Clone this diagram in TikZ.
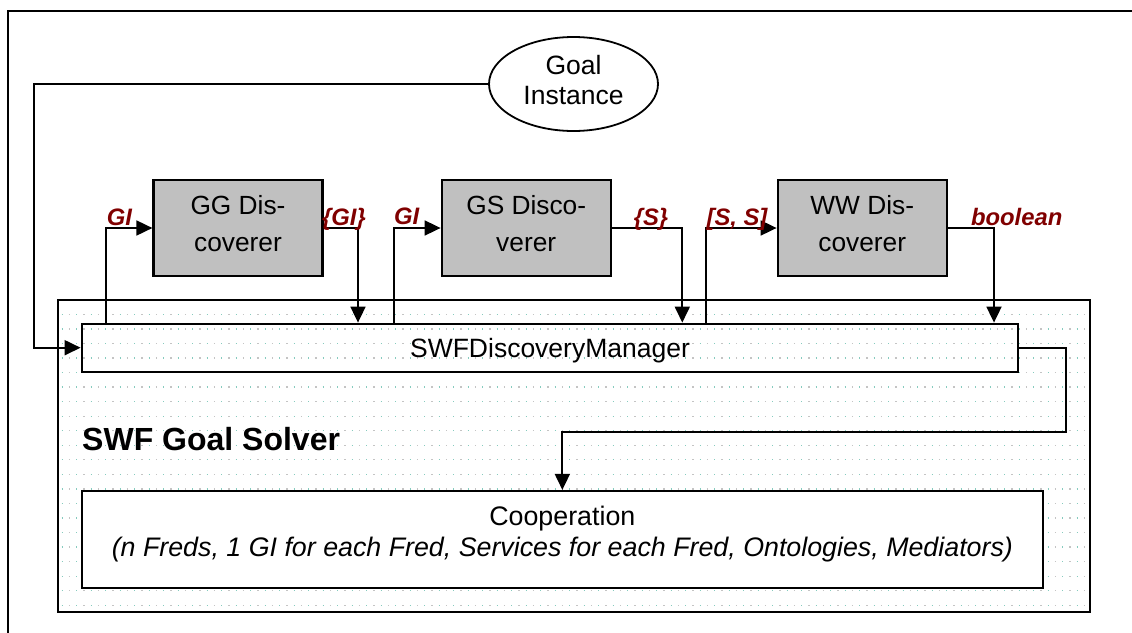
\documentclass[tikz,border=0pt]{standalone}
\usepackage{fontspec}
\setmainfont{Liberation Sans}
\usetikzlibrary{arrows.meta,shapes.geometric,calc}
\definecolor{lbl}{HTML}{800000}
\definecolor{boxgray}{HTML}{C0C0C0}
\definecolor{dotteal}{HTML}{86CBBE}
\definecolor{dotgray}{HTML}{C4C4C4}
\begin{document}
\begin{tikzpicture}[x=1pt,y=-1pt,
  box/.style={draw,line width=2.2pt,inner sep=0pt},
  disc/.style={box,fill=boxgray,minimum width=169pt,minimum height=96pt,
    align=center,font=\fontsize{26.3}{37}\selectfont,text depth=9.8pt},
  lab/.style={text=lbl,font=\fontsize{23.8}{24}\selectfont\bfseries\itshape,
    inner sep=0pt,anchor=base},
  conn/.style={line width=1.8pt},
  arr/.style={conn,-{Triangle[length=16pt,width=15pt]}},
  dotrow/.style={line width=1.3pt,dash pattern=on 1.3pt off 13.2pt},
]
\useasboundingbox (0,0) rectangle (1132,632);
\clip (0,0) rectangle (1132,632);

% sheet frame, running past the page edge
\draw[conn] (8.3,650) |- (1150,10.7);

% dotted grid inside the solver
\foreach \k in {0,...,20}{
  \pgfmathsetmacro\yy{314.3+14.55*\k}
  \draw[dotrow,dotteal] (61.6,\yy) -- (1088,\yy);
  \draw[dotrow,dotgray] (68.85,\yy) -- (1088,\yy);
}

% SWF Goal Solver container
\node[box,minimum width=1032.3pt,minimum height=312pt] (solver) at (573.85,455.7) {};
\node[anchor=base west,inner sep=0pt,font=\fontsize{32}{32}\selectfont\bfseries]
  (solverlabel) at (82,450) {SWF Goal Solver};

% discovery manager and cooperation
\node[box,minimum width=936.6pt,minimum height=48pt,text depth=0pt,
  font=\fontsize{26.5}{30}\selectfont] (mgr) at (550,347.7) {SWFDiscoveryManager};
\node[box,fill=white,minimum width=960.7pt,minimum height=97pt,align=center,
  font=\fontsize{26.8}{31}\selectfont,text depth=16.2pt] (coop) at (562.35,539.5)
  {Cooperation\\\textit{(n Freds, 1 GI for each Fred, Services for each Fred, Ontologies, Mediators)}};

% discoverers
\node[disc] (gg) at (238,228) {GG Dis-\\coverer};
\node[disc] (gs) at (526.2,228) {GS Disco-\\verer};
\node[disc] (ww) at (862.2,228) {WW Dis-\\coverer};

% goal instance
\node[draw,ellipse,line width=1.8pt,inner sep=0pt,minimum width=169pt,
  minimum height=94pt,align=center,font=\fontsize{26.5}{30}\selectfont,text depth=7.5pt]
  (goal) at (573.5,84) {Goal\\Instance};

% connector columns
\coordinate (xa) at (106,0);
\coordinate (xb) at (358,0);
\coordinate (xc) at (394,0);
\coordinate (xd) at (682.3,0);
\coordinate (xe) at (706,0);
\coordinate (xf) at (994,0);
\coordinate (gbend) at (34,0);
\coordinate (rbend) at (1066,431.7);

% connectors
\draw[arr] (goal.west) -- (gbend |- goal.west) |- (mgr.west);
\draw[arr] (xa |- mgr.north) |- (gg.west);
\draw[arr] (gg.east) -| (xb |- mgr.north);
\draw[arr] (xc |- mgr.north) |- (gs.west);
\draw[arr] (gs.east) -| (xd |- mgr.north);
\draw[arr] (xe |- mgr.north) |- (ww.west);
\draw[arr] (ww.east) -| (xf |- mgr.north);
\draw[arr] (mgr.east) -| (rbend) -| (coop.north);

% data labels
\node[lab] (l1) at (119.5,225) {GI};
\node[lab] (l2) at (344,225) {\{GI\}};
\node[lab] (l3) at (406.7,224) {GI};
\node[lab] (l4) at (651,225) {\{S\}};
\node[lab] (l5) at (737,225) {[S, S]};
\node[lab] (l6) at (1016.7,225) {boolean};
\end{tikzpicture}
\end{document}
